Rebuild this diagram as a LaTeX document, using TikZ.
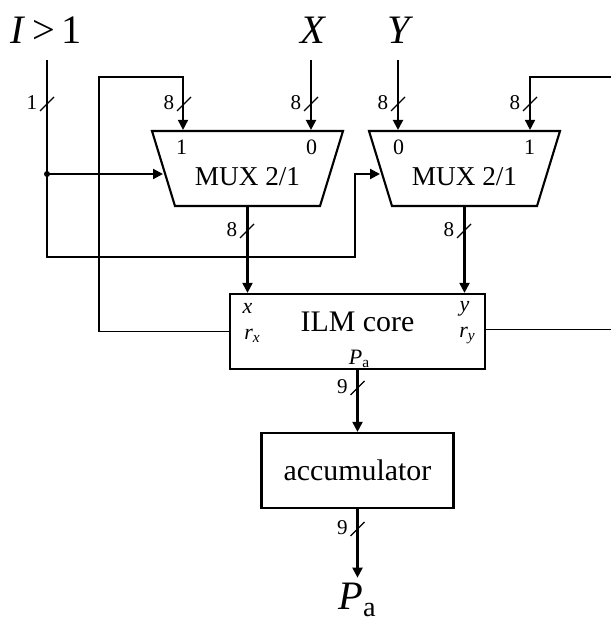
\documentclass[tikz,border=0pt]{standalone}
\usepackage{amsmath}
\usepackage{fontspec}
\setmainfont{Liberation Serif}
\usetikzlibrary{positioning, arrows.meta, calc, shapes.geometric}

% bus width mark: slash across a wire, number to its left
\newcommand{\busmark}[3]{
  \coordinate (#1) at #2;
  \draw[slash] ($(#1)+(-7,7)$) -- ($(#1)+(7,-7)$);
  \node[buslabel] (#1label) at ($(#1)+(-15,-1)$) {#3};
}

\begin{document}
\begin{tikzpicture}[
  x=0.02cm, y=-0.02cm,
  align=center,
  % Block styles
  muxbox/.style={draw, trapezium, shape border rotate=180, trapezium angle=81, trapezium stretches=true, minimum width=3.82cm, minimum height=1.5cm, inner sep=1pt, line width=1.2pt},
  corebox/.style={draw, rectangle, minimum width=5.1cm, minimum height=1.5cm, line width=1.3pt},
  accubox/.style={draw, rectangle, minimum width=3.84cm, minimum height=1.5cm, line width=1.3pt},
  % Text styles
  blocktext/.style={font=\fontsize{17}{20}\selectfont, inner sep=0pt},
  muxtext/.style={font=\fontsize{15.5}{18}\selectfont, inner sep=0pt},
  portlabel/.style={font=\fontsize{12.5}{14}\selectfont, inner sep=0pt},
  buslabel/.style={font=\fontsize{12}{14}\selectfont, inner sep=0pt},
  siglabel/.style={font=\fontsize{23}{27}\selectfont, inner sep=0pt, minimum height=1.2cm},
  % Wire styles
  wire/.style={draw, line width=1.2pt},
  thinwire/.style={draw, line width=0.9pt},
  line/.style={wire, -{Stealth[length=2mm, width=2mm, inset=0pt]}},
  slash/.style={draw, line width=0.7pt},
  jointdot/.style={circle, fill, inner sep=0pt, minimum size=0.12cm}
]
  \useasboundingbox (0,0) rectangle (611,621);

  % ==========================================
  % BLOCKS
  % ==========================================
  \node[muxbox] (mux1) at (247.5,168.5) {};
  \node[muxtext] (mux1text) at ($(mux1.center)+(0,8)$) {MUX 2/1};
  \node[portlabel] (mux1p1) at ($(mux1.center)+(-66,-21)$) {1};
  \node[portlabel] (mux1p0) at ($(mux1.center)+(64,-21)$) {0};

  \node[muxbox] (mux2) at (464.5,168.5) {};
  \node[muxtext] (mux2text) at ($(mux2.center)+(0,8)$) {MUX 2/1};
  \node[portlabel] (mux2p0) at ($(mux2.center)+(-66,-21)$) {0};
  \node[portlabel] (mux2p1) at ($(mux2.center)+(65,-21)$) {1};

  \node[corebox] (core) at (357.5,331.5) {};
  \node[blocktext] (coretext) at ($(core.center)+(0,-10)$) {ILM core};
  \node[portlabel] (corex) at ($(core.center)+(-110,-23)$) {$\textit{x}$};
  \node[portlabel] (corerx) at ($(core.center)+(-105,4)$) {$\textit{r}_{\textit{x}}$};
  \node[portlabel] (corey) at ($(core.center)+(107,-23)$) {$\textit{y}$};
  \node[portlabel] (corery) at ($(core.center)+(110,4)$) {$\textit{r}_{\textit{y}}$};
  \node[portlabel] (corepa) at ($(core.center)+(2,27)$) {$\textit{P}_{\mathrm{a}}$};

  \node[accubox] (accu) at (357.5,470.5) {};
  \node[blocktext] (accutext) at (accu.center) {accumulator};

  % ==========================================
  % INPUT AND OUTPUT SIGNALS
  % ==========================================
  \node[siglabel] (sigI) at (46,30) {\textit{I}\,>\,1};
  \node[siglabel] (sigX) at (313,30) {\textit{X}};
  \node[siglabel] (sigY) at (401,30) {\textit{Y}};
  \node[siglabel] (sigP) at (357.5,600) {$\textit{P}_{\mathrm{a}}$};

  % --- MUX inputs ---
  \coordinate (mux1a) at ($(mux1.north)+(-64.5,0)$);
  \coordinate (mux1b) at ($(mux1.north)+(63.5,0)$);
  \coordinate (mux2a) at ($(mux2.north)+(-66.5,0)$);
  \coordinate (mux2b) at ($(mux2.north)+(65.5,0)$);
  \coordinate (mux1sel) at (163,174);
  \coordinate (mux2sel) at (380,174);
  \coordinate (corea) at (core.north -| mux1);
  \coordinate (coreb) at (core.north -| mux2);

  % ==========================================
  % WIRES
  % ==========================================
  \draw[line] (sigX.south -| mux1b) -- (mux1b);
  \draw[line] (sigY.south -| mux2a) -- (mux2a);
  \draw[line] (mux1.south) -- (corea);
  \draw[line] (mux2.south) -- (coreb);
  \draw[line] (core.south) -- (accu.north);
  \draw[line] (accu.south) -- ($(sigP.north)+(0,8)$);

  % --- select line ---
  \coordinate (seljoint) at (47,174);
  \draw[wire] (seljoint |- sigI.south) -- (seljoint);
  \draw[line] (seljoint) -- (mux1sel);
  \draw[line] (seljoint) |- (355,257) |- (mux2sel);
  \node[jointdot] (seldot) at (seljoint) {};

  % --- feedback lines ---
  \coordinate (rxport) at (core.west);
  \coordinate (ryport) at ($(core.east)+(0,-2)$);
  \coordinate (rightedge) at (611,77);
  \draw[line, thinwire] (rxport) -| (99,77) -| (mux1a);
  \draw[thinwire] (ryport) -- (ryport -| rightedge);
  \draw[line, thinwire] (rightedge) -| (mux2b);

  % ==========================================
  % BUS WIDTHS
  % ==========================================
  \busmark{bus1}{(47,104)}{1}
  \busmark{bus2}{(184,104)}{8}
  \busmark{bus3}{(311,104)}{8}
  \busmark{bus4}{(398,104)}{8}
  \busmark{bus5}{(530,104)}{8}
  \busmark{bus6}{(247,231)}{8}
  \busmark{bus7}{(464,231)}{8}
  \busmark{bus8}{(357.5,388)}{9}
  \busmark{bus9}{(357.5,529)}{9}

\end{tikzpicture}
\end{document}
